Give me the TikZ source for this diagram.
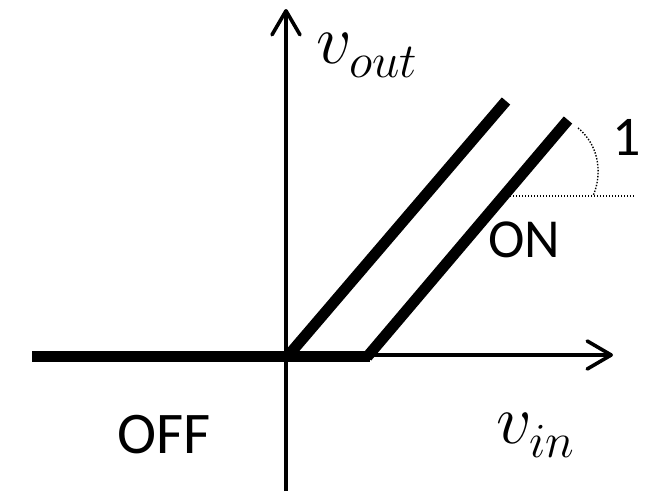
\RequirePackage{fix-cm}
\documentclass[tikz,border=0pt]{standalone}
\usepackage{fontspec}
\setmainfont{Carlito}
\usetikzlibrary{arrows.meta}
\newcommand{\lowsub}[1]{_{\lower4pt\hbox{$\scriptstyle #1$}}}
\begin{document}
\begin{tikzpicture}[x=1pt,y=-1pt,
  axisline/.style={line width=3.6pt,-{Straight Barb[length=24pt,width=28pt,round]}},
  thickline/.style={line width=11pt,line cap=butt},
  dotline/.style={line width=1.4pt,dash pattern=on 1.4pt off 1.6pt},
  lbl/.style={inner sep=0pt,anchor=base,font=\fontsize{56}{60}\selectfont},
  mathlbl/.style={inner sep=0pt,anchor=base west,font=\fontsize{70}{80}\selectfont}]
\useasboundingbox (0,0) rectangle (660,493);
% axes
\coordinate (xs) at (32,355);
\coordinate (xe) at (613,355);
\coordinate (ys) at (286,491);
\coordinate (ye) at (286,9);
\draw[axisline] (xs) -- (xe);
\draw[axisline] (ys) -- (ye);
% characteristic lines
\coordinate (h0) at (32,356);
\coordinate (h1) at (370,356);
\coordinate (o) at (287,357);
\coordinate (a1) at (506,101);
\coordinate (b0) at (367,357);
\coordinate (b1) at (568,120);
\draw[thickline] (h0) -- (h1);
\draw[thickline] (o) -- (a1);
\draw[thickline] (b0) -- (b1);
% slope indicator
\coordinate (d0) at (510,196);
\coordinate (d1) at (634,196);
\coordinate (c0) at (578,128);
\coordinate (c1) at (593,196);
\draw[dotline] (d0) -- (d1);
\draw[dotline] (c0) .. controls (602,148) and (601,178) .. (c1);
% labels
\node[lbl] (one) at (627,155) {1};
\node[lbl,font=\fontsize{55}{60}\selectfont] (on) at (524,257) {ON};
\node[lbl,font=\fontsize{59}{60}\selectfont] (off) at (164,453) {OFF};
\node[mathlbl] (vout) at (316,63) {$v\lowsub{out}$};
\node[mathlbl] (vin) at (496,443) {$v\lowsub{in}$};
\end{tikzpicture}
\end{document}
